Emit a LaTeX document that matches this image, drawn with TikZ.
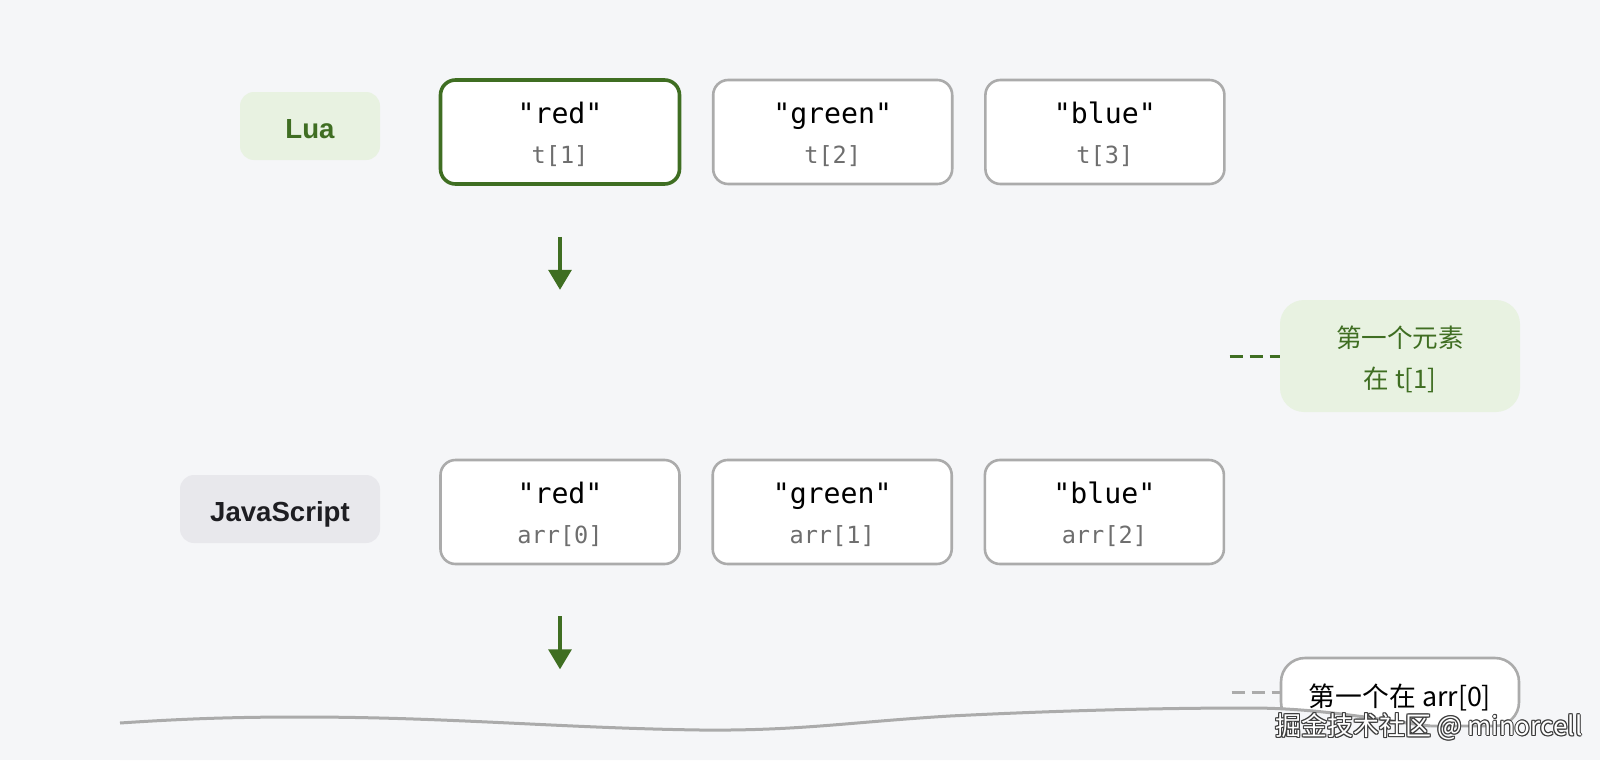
\documentclass[tikz,border=0pt]{standalone}
\usepackage{fontspec}
\setmainfont{Liberation Sans}
\setmonofont{DejaVu Sans Mono}
\newfontfamily\cjk{Noto Sans CJK SC}
\usetikzlibrary{arrows.meta}
\usetikzlibrary{positioning}

\definecolor{bg}{HTML}{F5F6F8}
\definecolor{luagreen}{HTML}{3F6E22}
\definecolor{luafill}{HTML}{E8F2E1}
\definecolor{jsfill}{HTML}{E8E8EC}
\definecolor{jstext}{HTML}{1E1E22}
\definecolor{boxgray}{HTML}{ABABAB}
\definecolor{subgray}{HTML}{6E6E6E}
\definecolor{wmgray}{HTML}{3C3C3C}

\newcommand{\subidx}[1]{{\fontsize{11.8pt}{20pt}\selectfont\color{subgray}#1}}

\begin{document}
\begin{tikzpicture}[x=0.5pt, y=-0.5pt, node distance=15.3pt]
  \tikzstyle{cell}=[rectangle, rounded corners=7.5pt, fill=white, draw=boxgray, line width=1.3pt, minimum width=119.5pt, minimum height=52pt, align=center, inner sep=0pt, font=\fontsize{14.1pt}{20pt}\selectfont\ttfamily]
  \tikzstyle{lang}=[rectangle, rounded corners=7pt, minimum height=34pt, inner sep=0pt, text height=12pt, text depth=0pt, font=\fontsize{13.8pt}{16pt}\selectfont\bfseries]
  \tikzstyle{note}=[rectangle, rounded corners=12pt, minimum width=120pt, inner sep=0pt, align=center, font=\fontsize{12.8pt}{20.5pt}\selectfont\cjk]
  \tikzstyle{flow}=[-{Triangle[width=11.5pt,length=10pt]}, line width=1.6pt, draw=luagreen]
  \tikzstyle{tie}=[line width=1.5pt, dash pattern=on 6.5pt off 3.5pt]
  \tikzstyle{wave}=[line width=1.5pt, draw=boxgray]
  \tikzstyle{wmtext}=[inner sep=0pt, font=\fontsize{13pt}{16pt}\selectfont\cjk]

  \fill[bg] (0,0) rectangle (1600,760);

  % Lua row
  \node (lua) [lang, fill=luafill, text=luagreen, minimum width=70pt] at (310,126) {Lua};
  \node (t1) [cell, draw=luagreen, line width=1.8pt] at (560,132) {\rule{0pt}{13pt}"red"\\ \subidx{t[1]}};
  \node (t2) [cell, right=of t1] {\rule{0pt}{13pt}"green"\\ \subidx{t[2]}};
  \node (t3) [cell, right=of t2] {\rule{0pt}{13pt}"blue"\\ \subidx{t[3]}};

  \coordinate (a1s) at ([yshift=-25.5pt]t1.south);
  \coordinate (a1e) at ([yshift=-52pt]t1.south);
  \draw[flow] (a1s) -- (a1e);

  % JavaScript row
  \node (js) [lang, fill=jsfill, text=jstext, minimum width=100pt] at (280,509) {JavaScript};
  \node (r1) [cell] at (560,512) {\rule{0pt}{13pt}"red"\\ \subidx{arr[0]}};
  \node (r2) [cell, right=of r1] {\rule{0pt}{13pt}"green"\\ \subidx{arr[1]}};
  \node (r3) [cell, right=of r2] {\rule{0pt}{13pt}"blue"\\ \subidx{arr[2]}};

  \coordinate (a2s) at ([yshift=-25.5pt]r1.south);
  \coordinate (a2e) at ([yshift=-52pt]r1.south);
  \draw[flow] (a2s) -- (a2e);

  % notes
  \node (n1) [note, fill=luafill, text=luagreen, minimum height=56pt] at (1400,356) {\rule{0pt}{14pt}第一个元素\\ 在 t[1]};
  \coordinate (d1) at ([xshift=-25pt]n1.west);
  \draw[tie, draw=luagreen] (d1) -- (n1.west);

  \node (n2) [note, fill=white, draw=boxgray, line width=1.3pt, minimum width=119pt, minimum height=34pt, text=black, font=\fontsize{13.4pt}{16pt}\selectfont\cjk] at (1400,692) {\rule{0pt}{16.8pt}第一个在 arr[0]};
  \coordinate (d2) at ([xshift=-24pt]n2.west);
  \draw[tie, draw=boxgray] (d2) -- (n2.west);

  % torn edge
  \fill[bg] (120,723) .. controls (180,719) and (230,717) .. (300,717)
    .. controls (450,717) and (560,728) .. (700,730)
    .. controls (800,731) and (850,722) .. (950,716)
    .. controls (1050,711) and (1150,708) .. (1250,708)
    .. controls (1320,708) and (1380,720) .. (1430,726)
    -- (1430,760) -- (120,760) -- cycle;
  \draw[wave] (120,723) .. controls (180,719) and (230,717) .. (300,717)
    .. controls (450,717) and (560,728) .. (700,730)
    .. controls (800,731) and (850,722) .. (950,716)
    .. controls (1050,711) and (1150,708) .. (1250,708)
    .. controls (1320,708) and (1380,720) .. (1430,726);

  % watermark
  \foreach \dx/\dy [count=\k] in {0.5/0, -0.5/0, 0/0.5, 0/-0.5, 0.4/0.4, -0.4/0.4, 0.4/-0.4, -0.4/-0.4}
    \node (wm\k) [wmtext, text=wmgray] at ([xshift=\dx pt, yshift=\dy pt]1429,727) {掘金技术社区 @ minorcell};
  \node (wm) [wmtext, text=white] at (1429,727) {掘金技术社区 @ minorcell};
\end{tikzpicture}
\end{document}
